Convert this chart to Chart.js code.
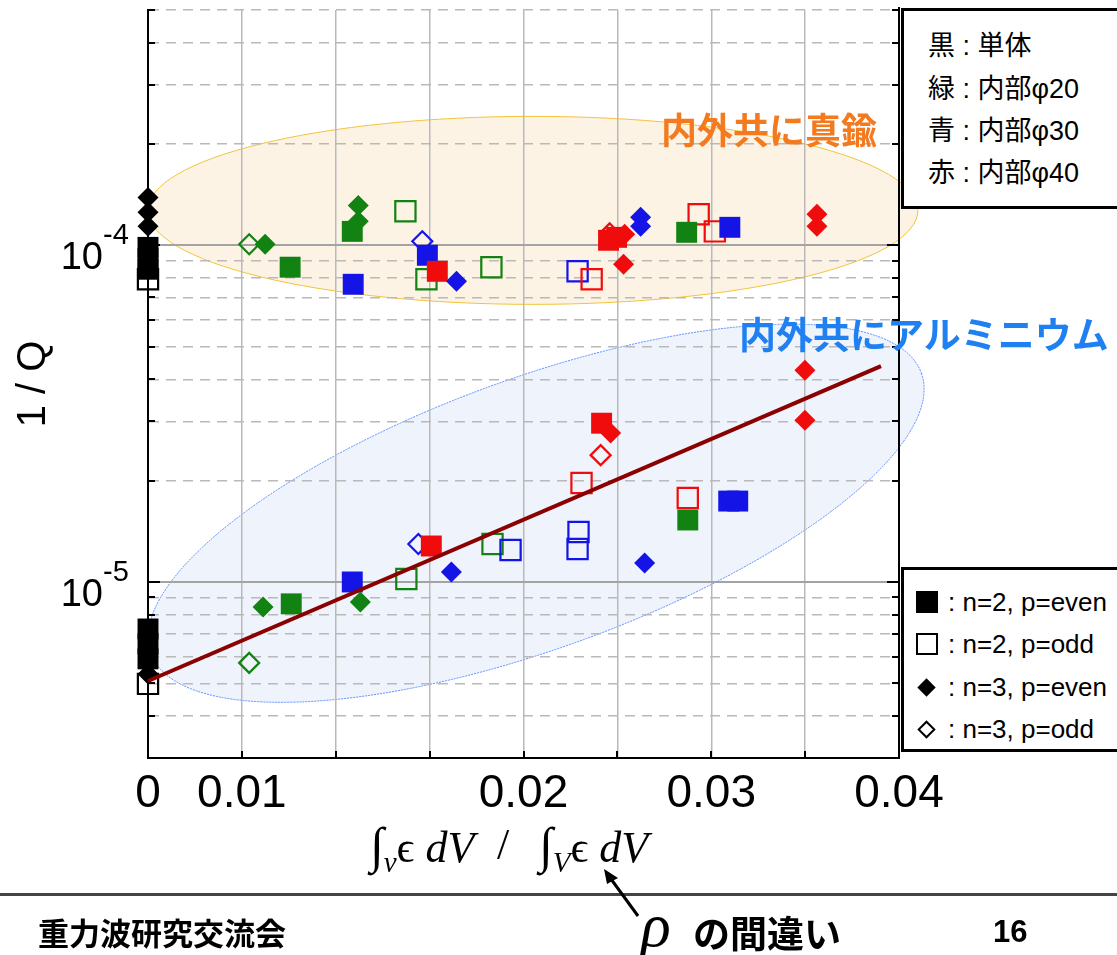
<!DOCTYPE html>
<html>
<head>
<meta charset="utf-8">
<script src="https://cdn.jsdelivr.net/npm/chart.js@4.4.1/dist/chart.umd.min.js"></script>
<style>
  html, body { margin: 0; padding: 0; background: #fff; }
  #wrap { position: relative; width: 1117px; height: 955px; overflow: hidden;
          font-family: "Liberation Sans", Arial, "Noto Sans CJK JP", sans-serif; color: #000; }
  #chart { position: absolute; left: 0; top: 0; }
  .abs { position: absolute; white-space: nowrap; }
  .box { position: absolute; background: #fff; border: 3px solid #000; box-sizing: border-box; }
  .lg1 { font-size: 27px; line-height: 30px; font-family: "Liberation Sans", "Noto Sans CJK JP", sans-serif; }
  .lg2 { font-size: 26px; line-height: 30px; }
  .mk { position: absolute; box-sizing: border-box; }
  .note { font-family: "Noto Sans CJK JP", sans-serif; font-weight: bold; font-size: 36px; line-height: 40px; }
  .foot { font-family: "Noto Sans CJK JP", sans-serif; font-weight: bold; font-size: 31px; line-height: 36px; }
  .math { font-family: "Liberation Serif", "DejaVu Serif", serif; font-size: 44px; line-height: 48px; }
  .math i { font-style: italic; }
  .math .int { font-size: 50px; }
  .math .sb { position: relative; top: 10px; font-size: 29px; font-style: italic; }
</style>
</head>
<body>
<div id="wrap">
  <canvas id="chart" width="1117" height="955"></canvas>

  <!-- colour key -->
  <div class="box" style="left:901px; top:8px; width:240px; height:201px;"></div>
  <div class="abs lg1" style="left:928px; top:31px;">黒 : 単体</div>
  <div class="abs lg1" style="left:928px; top:74px;">緑 : 内部φ20</div>
  <div class="abs lg1" style="left:928px; top:116px;">青 : 内部φ30</div>
  <div class="abs lg1" style="left:928px; top:158px;">赤 : 内部φ40</div>

  <!-- marker key -->
  <div class="box" style="left:901px; top:567px; width:240px; height:185px;"></div>
  <div class="mk" style="left:916px; top:591px; width:22px; height:22px; background:#000;"></div>
  <div class="mk" style="left:916px; top:633px; width:22px; height:22px; border:2px solid #000;"></div>
  <div class="mk" style="left:920px; top:681px; width:13px; height:13px; background:#000; transform:rotate(45deg);"></div>
  <div class="mk" style="left:920px; top:723px; width:13px; height:13px; border:2px solid #000; transform:rotate(45deg);"></div>
  <div class="abs lg2" style="left:948px; top:587px;">: n=2, p=even</div>
  <div class="abs lg2" style="left:948px; top:629px;">: n=2, p=odd</div>
  <div class="abs lg2" style="left:948px; top:672px;">: n=3, p=even</div>
  <div class="abs lg2" style="left:948px; top:714px;">: n=3, p=odd</div>

  <!-- region notes -->
  <div class="abs note" style="left:661px; top:108px; color:#f47a1f;">内外共に真鍮</div>
  <div class="abs note" style="left:739px; top:313px; color:#1f80f2; font-size:37px;">内外共にアルミニウム</div>

  <!-- x axis title -->
  <div class="abs math" style="left:370px; top:821px;"><span class="int">∫</span><span class="sb">v</span>ϵ<i> dV</i></div>
  <div class="abs math" style="left:497px; top:821px;">/</div>
  <div class="abs math" style="left:539px; top:821px;"><span class="int">∫</span><span class="sb">V</span>ϵ<i> dV</i></div>

  <!-- footer -->
  <div class="abs" style="left:0; top:893px; width:1117px; height:3px; background:#444;"></div>
  <div class="abs foot" style="left:38px; top:914px;">重力波研究交流会</div>
  <div class="abs" style="left:641px; top:893px; font-family:'Liberation Serif',serif; font-style:italic; font-size:62px; line-height:64px;">ρ</div>
  <div class="abs foot" style="left:693px; top:912px; font-size:37px; line-height:40px;">の間違い</div>
  <div class="abs" style="left:993px; top:914px; font-weight:bold; font-size:31px; line-height:36px;">16</div>
  <svg class="abs" style="left:0; top:0;" width="1117" height="955">
    <line x1="638" y1="916" x2="611" y2="879" stroke="#000" stroke-width="3"/>
    <polygon points="604,869 618,878 607,884" fill="#000"/>
  </svg>
</div>

<script>
// ---- measured values: 1/Q against the filling-factor ratio ----
// [ratio, 1/Q]
const black_n2_even = [[0, 0.986e-4], [0, 0.915e-4], [0, 0.849e-4], [0, 7.25e-6], [0, 6.55e-6], [0, 5.91e-6]];
const black_n2_odd  = [[0, 0.793e-4], [0, 4.98e-6]];
const black_n3_even = [[0, 1.388e-4], [0, 1.253e-4], [0, 1.139e-4], [0, 5.33e-6]];

const green_n2_even = [[0.00757, 0.861e-4], [0.01088, 1.10e-4], [0.02869, 1.093e-4], [0.00763, 8.61e-6], [0.02875, 1.528e-5]];
const green_n2_odd  = [[0.01371, 1.262e-4], [0.01483, 0.793e-4], [0.01829, 0.861e-4], [0.01376, 1.021e-5], [0.01835, 1.297e-5]];
const green_n3_even = [[0.00624, 1.007e-4], [0.0112, 1.314e-4], [0.0112, 1.178e-4], [0.00613, 8.43e-6], [0.01131, 8.72e-6]];
const green_n3_odd  = [[0.00539, 1.007e-4], [0.00539, 5.75e-6]];

const blue_n2_even = [[0.01488, 0.934e-4], [0.01093, 0.766e-4], [0.03099, 1.131e-4], [0.01088, 1.0e-5], [0.03093, 1.739e-5], [0.03141, 1.739e-5]];
const blue_n2_odd  = [[0.02288, 0.837e-4], [0.01931, 1.245e-5], [0.02293, 1.407e-5], [0.02288, 1.253e-5]];
const blue_n3_even = [[0.01643, 0.782e-4], [0.02624, 1.211e-4], [0.02624, 1.139e-4], [0.01616, 1.071e-5], [0.02645, 1.139e-5]];
const blue_n3_odd  = [[0.01461, 1.028e-4], [0.0144, 1.297e-5]];

const red_n2_even = [[0.01541, 0.837e-4], [0.02453, 1.035e-4], [0.02496, 1.056e-4], [0.01509, 1.279e-5], [0.02416, 2.962e-5]];
const red_n2_odd  = [[0.02363, 0.793e-4], [0.02933, 1.236e-4], [0.03019, 1.100e-4], [0.02309, 1.967e-5], [0.02875, 1.776e-5]];
const red_n3_even = [[0.02539, 1.078e-4], [0.02533, 0.878e-4], [0.03563, 1.236e-4], [0.03563, 1.139e-4], [0.02464, 2.768e-5], [0.03499, 4.256e-5], [0.03499, 3.025e-5]];
const red_n3_odd  = [[0.02459, 1.085e-4], [0.02411, 2.381e-5]];

// straight-line fit through the aluminium group (log 1/Q vs ratio)
const fitX = [0, 0.03904];
const fitY = [5.08e-6, 4.375e-5];

// axes
const xMin = 0, xMax = 0.04, xGridStep = 0.005;
const xTickPositions = [0, 0.005, 0.02, 0.03, 0.04];
const xTickLabels    = ['0', '0.01', '0.02', '0.03', '0.04'];
const yMin = 3e-6, yMax = 5e-4;
const yDecades = [1e-6, 1e-5, 1e-4];
const yMultipliers = [1, 2, 3, 4, 5, 6, 7, 8, 9];
const yLabelValues = [1e-4, 1e-5];
const yLabelExponents = ['-4', '-5'];

// shaded groupings: centre in data units, radii in pixels
const regions = [
  { x: 0.0205, y: 1.27e-4, rx: 385, ry: 94, rot: 0, fill: '#fdf3e4', stroke: '#f2c33c', dash: [] },
  { x: 0.02067, y: 1.60e-5, rx: 410, ry: 135, rot: -20 * Math.PI / 180, fill: '#eef3fc', stroke: '#5b8cff', dash: [2, 1] }
];

const COLORS = { black: '#000000', green: '#128212', blue: '#1414e6', red: '#f00c0c' };
const MARKERS = {
  n2even: { pointStyle: 'rect', radius: 14.8, filled: true },
  n2odd:  { pointStyle: 'rect', radius: 14.3, filled: false },
  n3even: { pointStyle: 'rectRot', radius: 10.5, filled: true },
  n3odd:  { pointStyle: 'rectRot', radius: 10, filled: false }
};

function series(points, color, marker) {
  const m = MARKERS[marker];
  return {
    data: points.map(([x, y]) => ({ x, y })),
    pointStyle: m.pointStyle,
    pointRadius: m.radius,
    pointHoverRadius: m.radius,
    pointBackgroundColor: m.filled ? COLORS[color] : 'rgba(0,0,0,0)',
    pointBorderColor: COLORS[color],
    pointBorderWidth: m.filled ? 0 : 2.2,
    showLine: false,
    clip: false
  };
}

const isDecade = v => Math.abs(Math.log10(v) - Math.round(Math.log10(v))) < 1e-9;
const yGridValues = [];
yDecades.forEach(d => yMultipliers.forEach(m => {
  const v = +(m * d).toPrecision(6);
  if (v >= yMin * 0.999 && v <= yMax * 1.001) yGridValues.push(v);
}));
const xGridValues = [];
for (let i = 0; i <= Math.round((xMax - xMin) / xGridStep); i++) xGridValues.push(+(xMin + i * xGridStep).toFixed(4));

// first dataset is painted last (on top)
const datasets = [
  {
    data: fitX.map((x, i) => ({ x, y: fitY[i] })),
    showLine: true, borderColor: '#8b0000', borderWidth: 4, pointRadius: 0, fill: false, clip: false
  },
  series(red_n3_even, 'red', 'n3even'),
  series(blue_n3_even, 'blue', 'n3even'),
  series(green_n3_even, 'green', 'n3even'),
  series(black_n3_even, 'black', 'n3even'),
  series(red_n2_even, 'red', 'n2even'),
  series(blue_n2_even, 'blue', 'n2even'),
  series(green_n2_even, 'green', 'n2even'),
  series(black_n2_even, 'black', 'n2even'),
  series(red_n3_odd, 'red', 'n3odd'),
  series(blue_n3_odd, 'blue', 'n3odd'),
  series(green_n3_odd, 'green', 'n3odd'),
  series(red_n2_odd, 'red', 'n2odd'),
  series(blue_n2_odd, 'blue', 'n2odd'),
  series(green_n2_odd, 'green', 'n2odd'),
  series(black_n2_odd, 'black', 'n2odd')
];

const FONT = '"Liberation Sans", Arial, sans-serif';

const regionPlugin = {
  id: 'regions',
  beforeDraw(chart) {
    const { ctx, scales: { x, y } } = chart;
    regions.forEach(r => {
      ctx.save();
      ctx.beginPath();
      ctx.ellipse(x.getPixelForValue(r.x), y.getPixelForValue(r.y), r.rx, r.ry, r.rot, 0, Math.PI * 2);
      ctx.fillStyle = r.fill;
      ctx.fill();
      ctx.setLineDash(r.dash);
      ctx.lineWidth = 1;
      ctx.strokeStyle = r.stroke;
      ctx.stroke();
      ctx.restore();
    });
  }
};

// right-hand frame, inward tick marks and the power-of-ten labels
const framePlugin = {
  id: 'frame',
  beforeDatasetsDraw(chart) {
    const { ctx, chartArea: a, scales: { x, y } } = chart;
    ctx.save();
    ctx.strokeStyle = '#000';
    ctx.lineWidth = 2;
    ctx.beginPath();
    ctx.moveTo(a.right, a.top - 3);
    ctx.lineTo(a.right, a.bottom + 1);
    ctx.stroke();
    ctx.beginPath();
    yGridValues.forEach(v => {
      const py = Math.round(y.getPixelForValue(v));
      const len = isDecade(v) ? 12 : 7;
      ctx.moveTo(a.left, py); ctx.lineTo(a.left + len, py);
      ctx.moveTo(a.right, py); ctx.lineTo(a.right - len, py);
    });
    xGridValues.forEach(v => {
      const px = Math.round(x.getPixelForValue(v));
      ctx.moveTo(px, a.bottom); ctx.lineTo(px, a.bottom - 7);
    });
    ctx.stroke();
    ctx.restore();
  },
  afterDraw(chart) {
    const { ctx, scales: { y } } = chart;
    ctx.save();
    ctx.fillStyle = '#000';
    ctx.textBaseline = 'alphabetic';
    yLabelValues.forEach((v, i) => {
      const py = y.getPixelForValue(v);
      ctx.font = '38px ' + FONT;
      ctx.textAlign = 'right';
      ctx.fillText('10', 103, py + 24);
      ctx.font = '29px ' + FONT;
      ctx.textAlign = 'left';
      ctx.fillText(yLabelExponents[i], 103, py - 1);
    });
    ctx.restore();
  }
};

const chart = new Chart(document.getElementById('chart'), {
  type: 'scatter',
  data: { datasets },
  options: {
    responsive: false,
    animation: false,
    devicePixelRatio: 1,
    layout: { autoPadding: false, padding: { left: 0, top: 10, right: 218, bottom: 0 } },
    plugins: { legend: { display: false }, tooltip: { enabled: false } },
    scales: {
      x: {
        type: 'linear', position: 'bottom', min: xMin, max: xMax,
        afterBuildTicks: s => { s.ticks = xGridValues.map(v => ({ value: v })); },
        afterFit: s => { s.height = 197; },
        ticks: {
          autoSkip: false, maxRotation: 0, minRotation: 0, padding: 9, color: '#000',
          font: { family: FONT, size: 46 },
          callback: v => {
            const i = xTickPositions.findIndex(p => Math.abs(p - v) < 1e-9);
            return i >= 0 ? xTickLabels[i] : '';
          }
        },
        grid: { color: '#b9b9b9', lineWidth: 1.5, drawTicks: false },
        border: { display: true, color: '#000', width: 2 }
      },
      y: {
        type: 'logarithmic', position: 'left', min: yMin, max: yMax,
        afterBuildTicks: s => { s.ticks = yGridValues.map(v => ({ value: v })); },
        afterFit: s => { s.width = 148; },
        ticks: { display: false },
        grid: {
          drawTicks: false,
          color: c => (c.tick && isDecade(c.tick.value)) ? '#a3a3a3' : '#b9b9b9',
          lineWidth: c => (c.tick && isDecade(c.tick.value)) ? 2 : 1.5
        },
        border: {
          display: true, color: '#000', width: 2,
          dash: c => (c.tick && !isDecade(c.tick.value)) ? [10, 7] : []
        },
        title: {
          display: true, text: '1 / Q', color: '#000',
          font: { family: FONT, size: 40 }, padding: { top: 10, bottom: 0 }
        }
      }
    }
  },
  plugins: [regionPlugin, framePlugin]
});
</script>
</body>
</html>
